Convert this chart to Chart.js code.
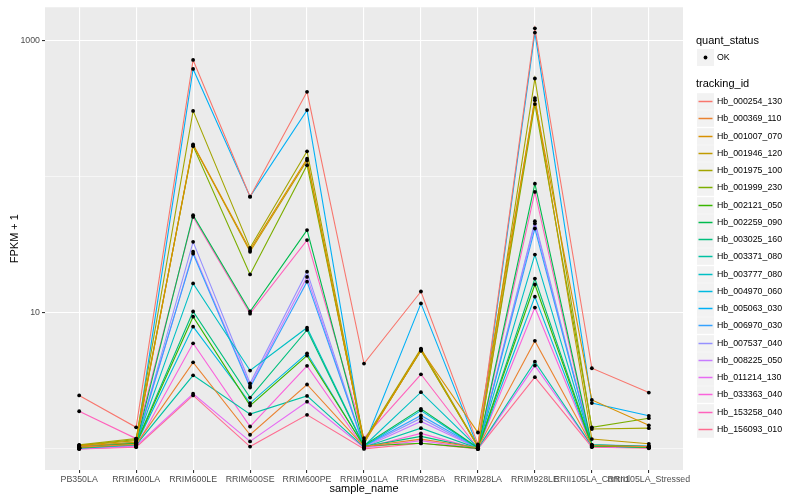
<!DOCTYPE html>
<html lang="en">
<head>
<meta charset="UTF-8">
<title>FPKM + 1 by sample</title>
<script src="https://cdn.jsdelivr.net/npm/chart.js"></script>
<style>
  body { margin: 0; background: #fff; }
  #wrap { width: 800px; height: 500px; }
</style>
</head>
<body>
<div id="wrap"><canvas id="fpkmChart" width="800" height="500"></canvas></div>
<script>
// sample categories (x axis)
const categories = ["PB350LA", "RRIM600LA", "RRIM600LE", "RRIM600SE", "RRIM600PE", "RRIM901LA",
    "RRIM928BA", "RRIM928LA", "RRIM928LE", "RRII105LA_Control", "RRII105LA_Stressed"];

const trackingIds = ["Hb_000254_130", "Hb_000369_110", "Hb_001007_070", "Hb_001946_120", "Hb_001975_100",
    "Hb_001999_230", "Hb_002121_050", "Hb_002259_090", "Hb_003025_160", "Hb_003371_080",
    "Hb_003777_080", "Hb_004970_060", "Hb_005063_030", "Hb_006970_030", "Hb_007537_040",
    "Hb_008225_050", "Hb_011214_130", "Hb_033363_040", "Hb_153258_040", "Hb_156093_010"];

const trackingColors = ["#F8766D", "#EA8331", "#D89000", "#C09B00", "#A3A500", "#7CAE00", "#39B600",
    "#00BB4E", "#00BF7D", "#00C1A3", "#00BFC4", "#00BAE0", "#00B0F6", "#35A2FF", "#9590FF",
    "#C77CFF", "#E76BF3", "#FA62DB", "#FF62BC", "#FF6C91"];

// FPKM + 1 per tracking id, in category order
const hb000254 = [2.47, 1.44, 717, 71.1, 418, 4.23, 14.3, 1.08, 1224, 3.91, 2.59];
const hb000369 = [1.03, 1.08, 4.32, 1.27, 2.97, 1.04, 1.18, 1.02, 6.21, 1.06, 1.04];
const hb001007 = [1.05, 1.12, 172, 28.9, 135, 1.10, 5.35, 1.32, 363, 2.29, 1.49];
const hb001946 = [1.06, 1.15, 170, 28.0, 131, 1.12, 5.30, 1.04, 376, 1.18, 1.09];
const hb001975 = [1.07, 1.19, 303, 29.9, 153, 1.15, 5.45, 1.05, 524, 1.40, 1.42];
const hb001999 = [1.06, 1.17, 167, 19.1, 121, 1.13, 5.25, 1.04, 340, 1.44, 1.68];
const hb002121 = [1.02, 1.09, 9.35, 2.08, 4.84, 1.05, 1.10, 1.01, 16.1, 1.05, 1.03];
const hb002259 = [1.03, 1.10, 52, 10.2, 40.4, 1.06, 1.97, 1.02, 88.5, 1.07, 1.04];
const hb003025 = [1.02, 1.10, 10.2, 2.38, 7.47, 1.04, 1.235, 1.01, 17.8, 1.06, 1.03];
const hb003371 = [1.01, 1.07, 3.47, 1.80, 2.45, 1.03, 1.42, 1.01, 4.37, 1.05, 1.03];
const hb003777 = [1.02, 1.10, 16.4, 3.76, 7.76, 1.05, 2.61, 1.02, 26.7, 1.06, 1.04];
const hb004970 = [1.02, 1.08, 7.9, 2.17, 5.03, 1.04, 1.91, 1.01, 13.1, 1.05, 1.03];
const hb005063 = [1.03, 1.12, 616, 71.1, 307, 1.06, 11.7, 1.03, 1138, 2.17, 1.75];
const hb006970 = [1.04, 1.11, 27.1, 2.82, 16.9, 1.05, 1.76, 1.02, 41.5, 1.07, 1.05];
const hb007537 = [1.01, 1.08, 33.1, 3.03, 20.0, 1.04, 1.68, 1.01, 47, 1.05, 1.03];
const hb008225 = [1.01, 1.07, 28.0, 2.90, 18.3, 1.03, 1.59, 1.01, 45.1, 1.05, 1.03];
const hb011214 = [1.01, 1.05, 2.54, 1.135, 2.22, 1.02, 1.15, 1.00, 4.09, 1.04, 1.02];
const hb033363 = [1.00, 1.04, 5.96, 1.46, 4.07, 1.02, 1.30, 1.00, 10.9, 1.04, 1.02];
const hb153258 = [1.89, 1.19, 50.5, 9.84, 34.1, 1.20, 3.53, 1.01, 77, 1.05, 1.03];
const hb156093 = [1.00, 1.03, 2.47, 1.04, 1.78, 1.00, 1.10, 1.00, 3.36, 1.03, 1.01];

const seriesValues = [hb000254, hb000369, hb001007, hb001946, hb001975, hb001999, hb002121, hb002259,
    hb003025, hb003371, hb003777, hb004970, hb005063, hb006970, hb007537, hb008225, hb011214,
    hb033363, hb153258, hb156093];

const yTicks = [1, 10, 100, 1000];
const yLabelled = [10, 1000];

const FONT = "'Liberation Sans', Arial, Helvetica, sans-serif";

function toPoints(vals) {
    return vals.map((v, i) => ({ x: i, y: v }));
}

let datasets = [];
// lines first (drawn under the points)
seriesValues.forEach((vals, s) => {
    datasets.push({
        label: trackingIds[s],
        data: toPoints(vals),
        borderColor: trackingColors[s],
        borderWidth: 1.1,
        pointRadius: 0,
        tension: 0,
        fill: false,
        order: 1
    });
});
// black points for quant_status OK
seriesValues.forEach((vals, s) => {
    datasets.push({
        label: trackingIds[s] + " OK",
        data: toPoints(vals),
        showLine: false,
        pointRadius: 1.9,
        pointBackgroundColor: '#000',
        pointBorderWidth: 0,
        order: 0
    });
});

// grey panel like ggplot
const panelBg = {
    id: 'panelBg',
    beforeDraw(chart) {
        const { ctx, chartArea: a } = chart;
        ctx.save();
        ctx.fillStyle = '#EBEBEB';
        ctx.fillRect(a.left, a.top, a.right - a.left, a.bottom - a.top);
        ctx.restore();
    }
};

// two-part legend on the right
const sideLegend = {
    id: 'sideLegend',
    afterDraw(chart) {
        const ctx = chart.ctx;
        const keyX = 697, keyW = 17, textX = 717;
        ctx.save();
        ctx.textBaseline = 'middle';
        ctx.textAlign = 'left';

        ctx.fillStyle = '#000';
        ctx.font = '11px ' + FONT;
        ctx.fillText('quant_status', 696, 41);
        ctx.fillStyle = '#F2F2F2';
        ctx.fillRect(keyX, 49, keyW, 17);
        ctx.fillStyle = '#000';
        ctx.beginPath();
        ctx.arc(keyX + keyW / 2, 57.5, 1.9, 0, Math.PI * 2);
        ctx.fill();
        ctx.font = '8.8px ' + FONT;
        ctx.fillText('OK', textX, 57.5);

        ctx.font = '11px ' + FONT;
        ctx.fillText('tracking_id', 696, 84);
        ctx.font = '8.8px ' + FONT;
        trackingIds.forEach((id, i) => {
            const cy = Math.round(101 + i * 17.25) + 0.5;
            ctx.fillStyle = '#F2F2F2';
            ctx.fillRect(keyX, cy - 8.3, keyW, 16.6);
            ctx.strokeStyle = trackingColors[i];
            ctx.lineWidth = 1.5;
            ctx.beginPath();
            ctx.moveTo(keyX + 1.5, cy);
            ctx.lineTo(keyX + keyW - 1.5, cy);
            ctx.stroke();
            ctx.fillStyle = '#000';
            ctx.fillText(id, textX, cy);
        });
        ctx.restore();
    }
};

let ctx1 = document.getElementById('fpkmChart').getContext('2d');
let fpkmChart = new Chart(ctx1, {
    type: 'line',
    data: { datasets: datasets },
    plugins: [panelBg, sideLegend],
    options: {
        responsive: false,
        animation: false,
        layout: { padding: { left: 0, top: 4, right: 117, bottom: 0 } },
        plugins: {
            legend: { display: false },
            tooltip: { enabled: false }
        },
        scales: {
            x: {
                type: 'linear',
                min: -0.6,
                max: categories.length - 1 + 0.6,
                afterBuildTicks: (scale) => {
                    scale.ticks = categories.map((c, i) => ({ value: i }));
                },
                afterFit: (scale) => { scale.height = 30; },
                border: { display: false },
                grid: {
                    color: '#FFFFFF',
                    lineWidth: 1.1,
                    drawTicks: true,
                    tickLength: 3,
                    tickColor: '#333333'
                },
                ticks: {
                    autoSkip: false,
                    maxRotation: 0,
                    minRotation: 0,
                    padding: 1,
                    color: '#4D4D4D',
                    font: { family: FONT, size: 8.8 },
                    callback: (v) => categories[v]
                },
                title: {
                    display: true,
                    text: 'sample_name',
                    color: '#000',
                    font: { family: FONT, size: 11 },
                    padding: { top: 0, bottom: 4 }
                }
            },
            y: {
                type: 'logarithmic',
                min: 0.702,
                max: 1746,
                afterBuildTicks: (scale) => {
                    scale.ticks = yTicks.map(v => ({ value: v }));
                },
                afterFit: (scale) => { scale.width = 45; },
                border: { display: false },
                grid: {
                    color: '#FFFFFF',
                    lineWidth: (c) => yLabelled.includes(c.tick.value) ? 1.1 : 0.55,
                    tickLength: 3,
                    tickColor: (c) => yLabelled.includes(c.tick.value) ? '#333333' : 'rgba(0,0,0,0)'
                },
                ticks: {
                    padding: 2,
                    color: '#4D4D4D',
                    font: { family: FONT, size: 8.8 },
                    callback: (v) => yLabelled.includes(v) ? String(v) : ''
                },
                title: {
                    display: true,
                    text: 'FPKM + 1',
                    color: '#000',
                    font: { family: FONT, size: 11 },
                    padding: { top: 8, bottom: 0 }
                }
            }
        }
    }
});
</script>
</body>
</html>
